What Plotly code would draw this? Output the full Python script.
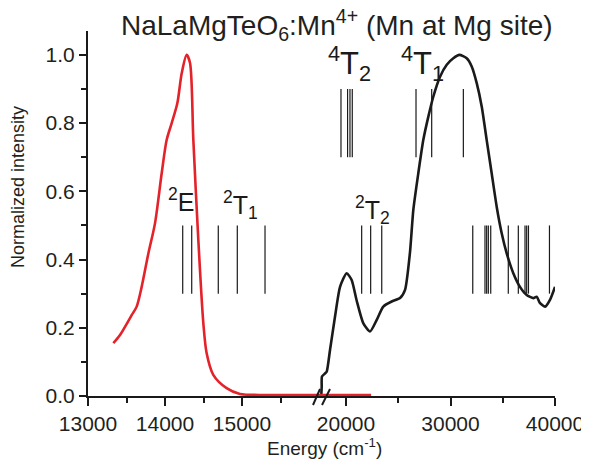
import plotly.graph_objects as go

# ---------------- data ----------------
# Emission (red) on the low-energy segment
em_x = [13329, 13416, 13567, 13632, 13697, 13784, 13870, 13957, 14022, 14087, 14160,
        14217, 14281, 14325, 14368, 14433, 14498, 14541, 14627, 14800, 14974, 15300, 15700, 16013]
em_y = [0.155, 0.179, 0.237, 0.262, 0.320, 0.418, 0.506, 0.653, 0.751, 0.800, 0.858,
        0.946, 1.000, 0.976, 0.751, 0.457, 0.213, 0.125, 0.062, 0.023, 0.006, 0.003, 0.003, 0.003]
# Emission tail continued on the high-energy segment
em2_x = [17512, 19000, 20500, 22400]
em2_y = [0.003, 0.003, 0.003, 0.003]

# Excitation (black) on the high-energy segment
ex_x = [17640, 17675, 17700, 17990, 18150, 18470, 18950, 19430, 20060, 20540, 21020, 21660,
        22300, 22940, 23570, 24370, 25170, 25650, 26120, 26440, 26920, 27400, 27880, 28360,
        29000, 29640, 30270, 30850, 31550, 32030, 32510, 32990, 33460, 33940, 34420, 34900,
        35380, 36010, 36650, 37290, 37930, 38250, 38570, 39050, 39520, 40000]
ex_y = [0.005, 0.027, 0.057, 0.066, 0.071, 0.135, 0.233, 0.320, 0.360, 0.340, 0.280, 0.213,
        0.189, 0.223, 0.262, 0.277, 0.287, 0.311, 0.420, 0.545, 0.653, 0.751, 0.819, 0.878,
        0.936, 0.971, 0.990, 1.000, 0.990, 0.966, 0.917, 0.848, 0.751, 0.653, 0.555, 0.477,
        0.418, 0.360, 0.320, 0.296, 0.287, 0.291, 0.272, 0.262, 0.282, 0.320]

# Calculated energy levels (vertical bars)
lev_low = [14230, 14347, 14692, 14939, 15299]                 # 2E, 2T1
lev_4T = [19520, 20150, 20380, 20600, 26700, 28200, 31230]    # 4T2, 4T1
lev_2T2_high = [21500, 22360, 23420, 32130, 33300, 33460, 33620, 33850,
                35530, 36490, 37130, 37290, 37460, 39470]
bar_low_span = [0.30, 0.50]
bar_4T_span = [0.70, 0.90]

# Level labels
labels_low = [("<sup>2</sup>E", 14210, 0.575), ("<sup>2</sup>T<sub>1</sub>", 14974, 0.560)]
labels_high = [("<sup>2</sup>T<sub>2</sub>", 22536, 0.545),
               ("<sup>4</sup>T<sub>2</sub>", 20290, 0.975), ("<sup>4</sup>T<sub>1</sub>", 27320, 0.975)]

x1_ticks = [13000, 14000, 15000]
x1_minor = [13500, 14500, 15500]
x2_ticks = [20000, 30000, 40000]
x2_minor = [25000, 35000]
y_ticks = [0.0, 0.2, 0.4, 0.6, 0.8, 1.0]
y_minor = [0.1, 0.3, 0.5, 0.7, 0.9]

RED = "#e4222a"
BLACK = "#1a1a1a"
FONT = "Arial, Liberation Sans, sans-serif"

OFF = 8  # default page body margin
W, H = 589 - OFF, 465 - OFF
L, R, T, B = 88 - OFF, 34, 31 - OFF, 69
split = (320 - 88) / (555 - 88)


def bars(vals, span):
    xs, ys = [], []
    for v in vals:
        xs += [v, v, None]
        ys += [span[0], span[1], None]
    return xs, ys


fig = go.Figure()

bx, by = bars(lev_low, bar_low_span)
fig.add_trace(go.Scatter(x=bx, y=by, mode="lines", line=dict(color=BLACK, width=1.2),
                         xaxis="x", yaxis="y", showlegend=False, hoverinfo="skip"))
bx, by = bars(lev_4T, bar_4T_span)
fig.add_trace(go.Scatter(x=bx, y=by, mode="lines", line=dict(color=BLACK, width=1.2),
                         xaxis="x2", yaxis="y", showlegend=False, hoverinfo="skip"))
bx, by = bars(lev_2T2_high, bar_low_span)
fig.add_trace(go.Scatter(x=bx, y=by, mode="lines", line=dict(color=BLACK, width=1.2),
                         xaxis="x2", yaxis="y", showlegend=False, hoverinfo="skip"))

fig.add_trace(go.Scatter(x=ex_x, y=ex_y, mode="lines", line=dict(color=BLACK, width=2.6, shape="spline", smoothing=0.6),
                         xaxis="x2", yaxis="y", showlegend=False))
fig.add_trace(go.Scatter(x=em2_x, y=em2_y, mode="lines", line=dict(color=RED, width=2.6),
                         xaxis="x2", yaxis="y", showlegend=False))
fig.add_trace(go.Scatter(x=em_x, y=em_y, mode="lines", line=dict(color=RED, width=2.6, shape="spline", smoothing=0.8),
                         xaxis="x", yaxis="y", showlegend=False))

tickfont = dict(family=FONT, size=21, color="#231f20")
common_x = dict(showgrid=False, zeroline=False, showline=True, linecolor=BLACK, linewidth=2,
                ticks="outside", ticklen=8, tickwidth=2, tickcolor=BLACK, tickfont=tickfont,
                anchor="y", automargin=False)

fig.update_layout(
    width=W, height=H,
    margin=dict(l=L, r=R, t=T, b=B),
    paper_bgcolor="white", plot_bgcolor="white",
    xaxis=dict(domain=[0, split], range=[13000, 16013], tickvals=x1_ticks,
               ticktext=[str(v) for v in x1_ticks],
               minor=dict(tickvals=x1_minor, ticks="outside", ticklen=5, tickwidth=2, tickcolor=BLACK),
               **common_x),
    xaxis2=dict(domain=[split, 1], range=[17512, 40000], tickvals=x2_ticks,
                ticktext=[str(v) for v in x2_ticks],
                minor=dict(tickvals=x2_minor, ticks="outside", ticklen=5, tickwidth=2, tickcolor=BLACK),
                **common_x),
    yaxis=dict(range=[0, 1.07], tickvals=y_ticks, ticktext=[f"{v:.1f}" for v in y_ticks],
               showgrid=False, zeroline=False, showline=True, linecolor=BLACK, linewidth=2,
               ticks="outside", ticklen=7, tickwidth=2, tickcolor=BLACK, tickfont=tickfont,
               minor=dict(tickvals=y_minor, ticks="outside", ticklen=5, tickwidth=2, tickcolor=BLACK),
               anchor="x", automargin=False),
)

# level labels
for txt, xv, yv in labels_low:
    fig.add_annotation(x=xv, y=yv, xref="x", yref="y", text=txt, showarrow=False,
                       font=dict(family=FONT, size=25, color=BLACK), xanchor="center", yanchor="middle")
for i, (txt, xv, yv) in enumerate(labels_high):
    size = 25 if i == 0 else 31
    fig.add_annotation(x=xv, y=yv, xref="x2", yref="y", text=txt, showarrow=False,
                       font=dict(family=FONT, size=size, color=BLACK), xanchor="center", yanchor="middle")

PH = H - T - B
PW = W - L - R


# helpers converting reference-page pixels to paper coords
def px(xp):
    return (xp - OFF - L) / PW


def py(yp):
    return (H - B - (yp - OFF)) / PH


# title
fig.add_annotation(x=px(337), y=py(25), xref="paper", yref="paper",
                   text="NaLaMgTeO<sub>6</sub>:Mn<sup>4+</sup> (Mn at Mg site)", showarrow=False,
                   font=dict(family=FONT, size=28, color="#231f20"), xanchor="center", yanchor="middle")
# axis titles
fig.add_annotation(x=px(324), y=py(447), xref="paper", yref="paper",
                   text="Energy (cm<sup>-1</sup>)", showarrow=False,
                   font=dict(family=FONT, size=19, color="#231f20"), xanchor="center", yanchor="middle")
fig.add_annotation(x=px(18), y=py(187), xref="paper", yref="paper",
                   text="Normalized intensity", showarrow=False, textangle=-90,
                   font=dict(family=FONT, size=18, color="#231f20"), xanchor="center", yanchor="middle")

# axis break marks
for x0, y0, x1, y1 in [(313, 405, 320, 389), (322, 405, 330, 389)]:
    fig.add_shape(type="line", xref="paper", yref="paper", x0=px(x0), y0=py(y0), x1=px(x1), y1=py(y1),
                  line=dict(color=BLACK, width=2))

fig.write_html("out.html")
